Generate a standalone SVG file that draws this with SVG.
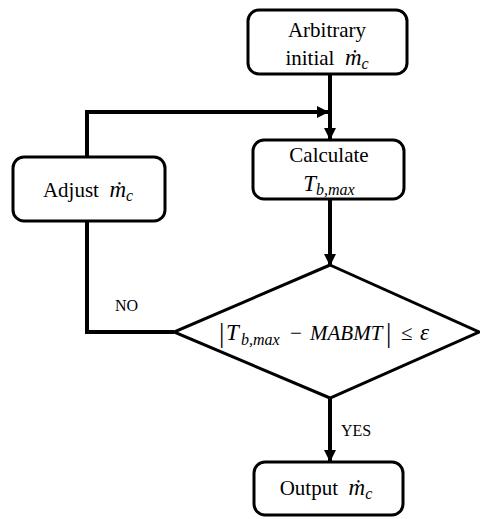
<svg xmlns="http://www.w3.org/2000/svg" width="480" height="519" viewBox="0 0 480 519">
<style>
.box{fill:#fff;stroke:#000;stroke-width:3}
.con{fill:none;stroke:#000;stroke-width:4}
.t{font-family:"Liberation Serif","Times New Roman",serif;font-size:21px;fill:#000;text-anchor:middle}
.e{font-family:"Liberation Serif","Times New Roman",serif;font-size:21px;fill:#000}
.m{font-style:italic}
.md{font-style:italic;font-size:23px}
.s{font-size:16px;font-style:italic}
.bar{font-size:27px}
.lbl{font-family:"Liberation Serif","Times New Roman",serif;font-size:16px;fill:#000}
</style>
<defs>
<marker id="ah" viewBox="0 0 12 12" refX="11" refY="6" markerWidth="12" markerHeight="12" markerUnits="userSpaceOnUse" orient="auto">
<path d="M0,0 L12,6 L0,12 z" fill="#000"/>
</marker>
</defs>
<rect width="480" height="519" fill="#fff"/>
<g id="connectors">
<line class="con" x1="330" y1="74" x2="330" y2="139" marker-end="url(#ah)"/>
<polyline class="con" points="87,157 87,112 328,112" marker-end="url(#ah)"/>
<line class="con" x1="330" y1="199" x2="330" y2="265" marker-end="url(#ah)"/>
<polyline class="con" points="87,221 87,332 174,332"/>
<line class="con" x1="330" y1="398" x2="330" y2="461" marker-end="url(#ah)"/>
<text class="lbl" x="115" y="311">NO</text>
<text class="lbl" x="341" y="436">YES</text>
</g>
<g id="start">
<rect class="box" x="248" y="10" width="159" height="64" rx="11"/>
<text class="t" x="327" y="37">Arbitrary</text>
<text class="t" x="327" y="65">initial&#160;&#160;<tspan class="md">ṁ</tspan><tspan class="s" dy="4">c</tspan></text>
</g>
<g id="calculate">
<rect class="box" x="253" y="140" width="151" height="59" rx="11"/>
<text class="t" x="329" y="162">Calculate</text>
<text class="t" x="329" y="191"><tspan class="md">T</tspan><tspan class="s" dy="4">b,max</tspan></text>
</g>
<g id="adjust">
<rect class="box" x="13" y="157" width="152" height="64" rx="11"/>
<text class="t" x="88" y="197">Adjust&#160;&#160;<tspan class="md">ṁ</tspan><tspan class="s" dy="4">c</tspan></text>
</g>
<g id="decision">
<polygon class="box" points="330,265 479,332 330,398 174,332"/>
<text class="e" y="340"><tspan class="bar" x="219" y="342">|</tspan><tspan class="md" x="226" y="340">T</tspan><tspan class="s" x="241" y="345">b,max</tspan><tspan x="290" y="340">−</tspan><tspan class="m" x="310" y="340">MABMT</tspan><tspan class="bar" x="386" y="342">|</tspan><tspan x="401" y="340">≤</tspan><tspan class="md" x="420" y="340">ε</tspan></text>
</g>
<g id="output">
<rect class="box" x="254" y="462" width="149" height="53" rx="11"/>
<text class="t" x="326" y="495">Output&#160;&#160;<tspan class="md">ṁ</tspan><tspan class="s" dy="4">c</tspan></text>
</g>
</svg>
